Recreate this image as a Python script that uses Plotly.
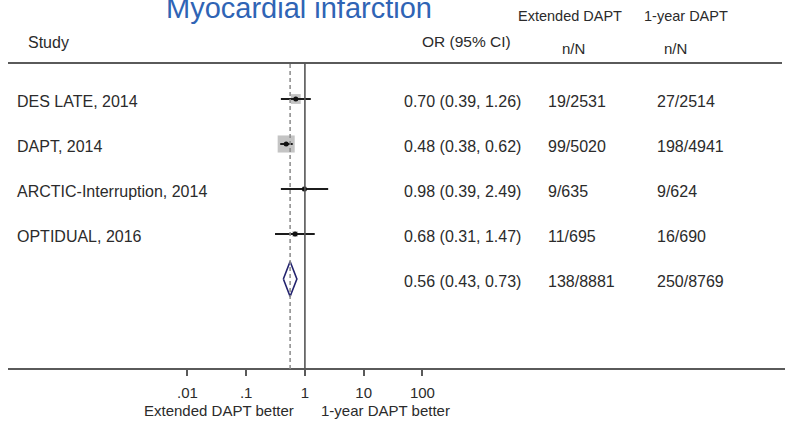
import plotly.graph_objects as go

# forest plot data: myocardial infarction, extended vs 1-year DAPT
STUDIES = ["DES LATE, 2014", "DAPT, 2014", "ARCTIC-Interruption, 2014", "OPTIDUAL, 2016"]
OR_EST = [0.70, 0.48, 0.98, 0.68]
OR_LO = [0.39, 0.38, 0.39, 0.31]
OR_HI = [1.26, 0.62, 2.49, 1.47]
WEIGHTS = [22.0, 66.0, 5.0, 7.0]  # approx % weight, sets box area
EXT_NN = ["19/2531", "99/5020", "9/635", "11/695"]
ONE_NN = ["27/2514", "198/4941", "9/624", "16/690"]

POOLED_EST = 0.56
POOLED_LO = 0.43
POOLED_HI = 0.73
POOLED_EXT_NN = "138/8881"
POOLED_ONE_NN = "250/8769"

TICK_VALS = [0.01, 0.1, 1, 10, 100]
TICK_TEXT = [".01", ".1", "1", "10", "100"]

W, H = 785, 422
PLOT_BOTTOM = 369  # pixel row of the x axis
FONT = "Liberation Sans, Arial, sans-serif"
TXT = "#2b2b2b"
ROW_NUDGE = 0.045  # row text sits a touch below the markers


def px_x(p):
    return p / W


def px_y(p):
    return 1 - p / PLOT_BOTTOM


def fmt_ci(e, lo, hi):
    return f"{e:.2f} ({lo:.2f}, {hi:.2f})"


rows = list(range(1, len(STUDIES) + 1))
pooled_row = len(STUDIES) + 1

fig = go.Figure()

# weight boxes
box_sizes = [2.1 * w ** 0.5 for w in WEIGHTS]
fig.add_trace(go.Scatter(
    x=OR_EST, y=rows, mode="markers",
    marker=dict(symbol="square", size=box_sizes, color="#ababab", line=dict(width=0)),
    hoverinfo="skip", showlegend=False,
))

# confidence intervals
ci_x, ci_y = [], []
for lo, hi, r in zip(OR_LO, OR_HI, rows):
    ci_x += [lo, hi, None]
    ci_y += [r, r, None]
fig.add_trace(go.Scatter(
    x=ci_x, y=ci_y, mode="lines",
    line=dict(color="#1c1c1c", width=2),
    hoverinfo="skip", showlegend=False,
))

# point estimates
fig.add_trace(go.Scatter(
    x=OR_EST, y=rows, mode="markers",
    marker=dict(symbol="circle", size=5, color="#111111"),
    hoverinfo="skip", showlegend=False,
))

# pooled diamond
half = 0.39
fig.add_trace(go.Scatter(
    x=[POOLED_LO, POOLED_EST, POOLED_HI, POOLED_EST, POOLED_LO],
    y=[pooled_row, pooled_row - half, pooled_row, pooled_row + half, pooled_row],
    mode="lines", line=dict(color="#23236e", width=1.6),
    hoverinfo="skip", showlegend=False,
))

shapes = [
    # header rule
    dict(type="line", xref="paper", yref="paper", x0=px_x(8), x1=px_x(782),
         y0=px_y(63), y1=px_y(63), line=dict(color="#5a5a5a", width=1.8)),
    # axis rule
    dict(type="line", xref="paper", yref="paper", x0=px_x(8), x1=1,
         y0=0, y1=0, line=dict(color="#5a5a5a", width=1.8)),
    # line of no effect
    dict(type="line", xref="x", yref="paper", x0=1, x1=1,
         y0=0, y1=px_y(63), line=dict(color="#555555", width=1.6)),
    # pooled estimate
    dict(type="line", xref="x", yref="paper", x0=POOLED_EST, x1=POOLED_EST,
         y0=0, y1=px_y(63), line=dict(color="#8a8a8a", width=1.5, dash="4px,3px")),
]

ann = []


def add_text(text, x, y, size, yref="paper", color=TXT, xanchor="left"):
    ann.append(dict(text=text, x=x, y=y, xref="paper", yref=yref,
                    xanchor=xanchor, yanchor="middle", showarrow=False,
                    font=dict(family=FONT, size=size, color=color)))


add_text("Myocardial infarction", px_x(164), px_y(8), 29, color="#2f64b5")
add_text("Study", px_x(26), px_y(43), 16)
add_text("OR (95% CI)", px_x(420), px_y(42), 15.5)
add_text("Extended DAPT", px_x(516), px_y(16), 14.5)
add_text("1-year DAPT", px_x(642), px_y(16), 14.5)
add_text("n/N", px_x(560), px_y(48), 15)
add_text("n/N", px_x(662), px_y(48), 15)

for name, e, lo, hi, a, b, r in zip(STUDIES, OR_EST, OR_LO, OR_HI, EXT_NN, ONE_NN, rows):
    ty = r + ROW_NUDGE
    add_text(name, px_x(15), ty, 16, yref="y")
    add_text(fmt_ci(e, lo, hi), px_x(402), ty, 16, yref="y")
    add_text(a, px_x(546), ty, 16, yref="y")
    add_text(b, px_x(655), ty, 16, yref="y")

ty = pooled_row + ROW_NUDGE
add_text(fmt_ci(POOLED_EST, POOLED_LO, POOLED_HI), px_x(402), ty, 16, yref="y")
add_text(POOLED_EXT_NN, px_x(546), ty, 16, yref="y")
add_text(POOLED_ONE_NN, px_x(655), ty, 16, yref="y")

add_text("Extended DAPT better", px_x(219), px_y(410), 15, xanchor="center")
add_text("1-year DAPT better", px_x(385), px_y(410), 15, xanchor="center")

fig.update_layout(
    width=W, height=H,
    margin=dict(l=0, r=0, t=0, b=H - PLOT_BOTTOM, pad=0),
    paper_bgcolor="white", plot_bgcolor="white",
    shapes=shapes, annotations=ann,
    xaxis=dict(
        type="log", range=[-5.19, 8.172], showgrid=False, zeroline=False,
        showline=False, tickmode="array", tickvals=TICK_VALS, ticktext=TICK_TEXT,
        ticks="outside", ticklen=6, tickwidth=1.5, tickcolor="#5a5a5a",
        ticklabelstandoff=4,
        tickfont=dict(family=FONT, size=15, color=TXT),
    ),
    yaxis=dict(range=[7.0, -1.2], visible=False, showgrid=False, zeroline=False),
)

# page body has a default 8px margin; drop it so the figure fills the window
fig.write_html(
    "out.html",
    config={"displayModeBar": False},
    post_script="document.body.style.margin = '0';",
)
